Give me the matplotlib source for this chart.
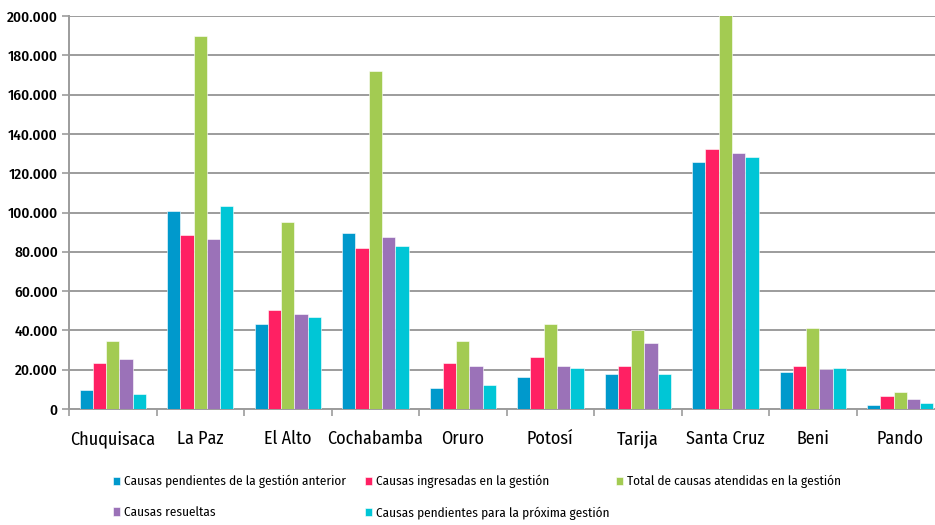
import numpy as np
import matplotlib
matplotlib.use("Agg")
import matplotlib.pyplot as plt
from matplotlib.ticker import FixedLocator, FuncFormatter

# Data (causas por distrito)
departamentos = ["Chuquisaca", "La Paz", "El Alto", "Cochabamba", "Oruro",
                 "Potosí", "Tarija", "Santa Cruz", "Beni", "Pando"]
pendientes_anterior = [9900, 100900, 43500, 89700, 10900, 16500, 17700, 125700, 18900, 2000]
ingresadas = [23400, 88600, 50300, 81800, 23400, 26700, 22100, 132400, 22100, 6500]
total_atendidas = [34500, 189800, 95400, 171800, 34600, 43500, 40100, 258100, 41300, 8800]
resueltas = [25500, 86300, 48100, 87500, 22100, 22100, 33400, 130200, 20200, 5300]
pendientes_proxima = [7500, 103100, 46900, 83000, 12100, 21100, 17700, 128000, 21100, 3100]

series_labels = ["Causas pendientes de la gestión anterior",
                 "Causas ingresadas en la gestión",
                 "Total de causas atendidas en la gestión",
                 "Causas resueltas",
                 "Causas pendientes para la próxima gestión"]
colors = ["#0099CC", "#FF2063", "#A3CB52", "#9B72B8", "#00C6D6"]

plt.rcParams["font.family"] = ["Fira Sans Condensed", "DejaVu Sans"]

fig = plt.figure(figsize=(9.35, 5.25), dpi=100)
ax = fig.add_axes([69 / 935, 116 / 525, 875 / 935, 393 / 525])

series = [pendientes_anterior, ingresadas, total_atendidas, resueltas, pendientes_proxima]
x = np.arange(len(departamentos))
w = 0.152
handles = []
for i, (vals, lab, col) in enumerate(zip(series, series_labels, colors)):
    b = ax.bar(x + (i - 2) * w, vals, width=w, color=col, edgecolor="white",
               linewidth=0.4, label=lab, zorder=3)
    handles.append(b)

ax.set_xlim(-0.5, len(departamentos) - 0.5)
ax.set_ylim(0, 200000)
ax.yaxis.set_major_locator(FixedLocator(np.arange(0, 200001, 20000)))
ax.yaxis.set_major_formatter(FuncFormatter(lambda v, p: f"{int(v):,}".replace(",", ".")))
ax.grid(axis="y", color="#9C9C9C", linewidth=1.4, zorder=0)

ax.set_xticks(np.arange(-0.5, len(departamentos), 1.0))
ax.set_xticklabels([])
ax.set_xticks(x, minor=True)
ax.set_xticklabels(departamentos, minor=True, fontsize=13)
ax.tick_params(axis="x", which="major", length=5, width=1.2, color="#9C9C9C", direction="out")
ax.tick_params(axis="x", which="minor", length=0, pad=15)
ax.tick_params(axis="y", length=5, width=1.2, color="#9C9C9C", labelsize=11, pad=3)
for t in ax.get_yticklabels():
    t.set_fontweight(500)

for s in ["top", "right"]:
    ax.spines[s].set_visible(False)
for s in ["left", "bottom"]:
    ax.spines[s].set_color("#9C9C9C")
    ax.spines[s].set_linewidth(1.4)

# legend laid out as three fixed-width columns, filled row by row
columns = [([0, 3], 113), ([1, 4], 365), ([2], 616)]
for idx, xpos in columns:
    fig.legend([handles[i] for i in idx], [series_labels[i] for i in idx],
               loc="upper left", bbox_to_anchor=(xpos / 935, 1 - 475 / 525),
               frameon=False, fontsize=9.5, handlelength=0.55, handleheight=0.6,
               handletextpad=0.25, labelspacing=1.35, borderpad=0, borderaxespad=0)

fig.savefig("out.png", dpi=100)
